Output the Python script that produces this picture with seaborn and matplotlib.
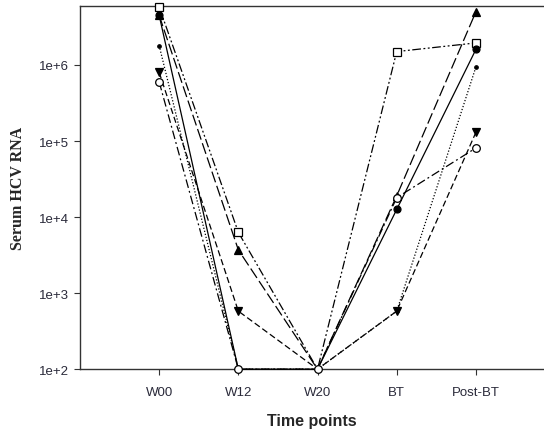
import seaborn as sns
import matplotlib.pyplot as plt
import matplotlib.ticker as mticker
import pandas as pd
import numpy as np

# points de mesure
time_points = ["W00", "W12", "W20", "BT", "Post-BT"]

# charge virale par patient
square_open = [5.8e6, 6.3e3, 1e2, 1.5e6, 1.95e6]
triangle_up = [4.5e6, 3.7e3, 1e2, 1.9e4, 5.0e6]
triangle_down = [8.0e5, 5.8e2, 1e2, 5.8e2, 1.3e5]
circle_filled = [4.5e6, 1e2, 1e2, 1.26e4, 1.6e6]
small_dot = [1.8e6, 1e2, 1e2, 5.8e2, 9.4e5]
circle_open = [6.0e5, 1e2, 1e2, 1.8e4, 8.1e4]

series = {
    "square_open": square_open,
    "triangle_up": triangle_up,
    "triangle_down": triangle_down,
    "circle_filled": circle_filled,
    "small_dot": small_dot,
    "circle_open": circle_open,
}

# style de chaque courbe : marker, taille, remplissage, tirets
styles = {
    "square_open": dict(marker="s", ms=6, mfc="white", dashes=(7, 2, 1.5, 2, 1.5, 2)),
    "triangle_up": dict(marker="^", ms=5.5, mfc="black", dashes=(9, 3)),
    "triangle_down": dict(marker="v", ms=5.5, mfc="black", dashes=(5, 2.5)),
    "circle_filled": dict(marker="o", ms=5, mfc="black", dashes=()),
    "small_dot": dict(marker="o", ms=2.5, mfc="black", dashes=(1, 1.5)),
    "circle_open": dict(marker="o", ms=5.5, mfc="white", dashes=(7, 2.5, 1.5, 2.5)),
}

rows = []
for name, vals in series.items():
    for i, v in enumerate(vals):
        rows.append({"patient": name, "pos": i, "rna": v})
df = pd.DataFrame(rows)

sns.set_style("white")
plt.rcParams["font.family"] = ["Liberation Sans", "DejaVu Sans"]

fig = plt.figure(figsize=(5.44, 4.35), dpi=100)
ax = fig.add_axes([0.147, 0.149, 0.853, 0.835])

for k, name in enumerate(series):
    st = styles[name]
    sub = df[df["patient"] == name]
    # marqueurs cachés sur l'axe du bas sauf pour le cercle ouvert
    if name == "circle_open":
        every = list(range(len(sub)))
    else:
        every = [i for i, v in enumerate(sub["rna"]) if v > 1e2]
    sns.lineplot(data=sub, x="pos", y="rna", ax=ax, color="black",
                 marker=st["marker"], markersize=st["ms"], markevery=every,
                 markerfacecolor=st["mfc"], markeredgecolor="black",
                 markeredgewidth=0.9, linewidth=0.9, legend=False,
                 clip_on=False, zorder=3 + k)
    l = ax.lines[-1]
    if st["dashes"]:
        l.set_dashes(st["dashes"])

ax.set_yscale("log")
ax.set_ylim(1e2, 5.97e6)
ax.set_xlim(-1, 4.86)
ax.yaxis.set_major_locator(mticker.FixedLocator([1e2, 1e3, 1e4, 1e5, 1e6]))
ax.yaxis.set_minor_locator(mticker.NullLocator())
ax.yaxis.set_major_formatter(mticker.FuncFormatter(lambda v, p: "1e+%d" % int(round(np.log10(v)))))
ax.set_xticks(range(len(time_points)))
ax.set_xticklabels(time_points)

for s in ["left", "top", "bottom"]:
    ax.spines[s].set_color("#333333")
    ax.spines[s].set_linewidth(1.0)
ax.spines["right"].set_visible(False)

ax.tick_params(axis="both", which="major", direction="out", length=4, width=0.8,
               color="#333333", labelsize=9.5, labelcolor="#2a2a3a",
               left=True, bottom=True)
ax.tick_params(axis="y", pad=4)
ax.tick_params(axis="x", pad=8)

ax.set_xlabel("Time points", fontsize=11.5, fontweight="bold", labelpad=11)
ax.set_ylabel("Serum HCV RNA", fontsize=11.5, fontweight="bold",
              family=["Liberation Serif", "DejaVu Serif"], labelpad=9)

fig.savefig("out.png", dpi=100)
